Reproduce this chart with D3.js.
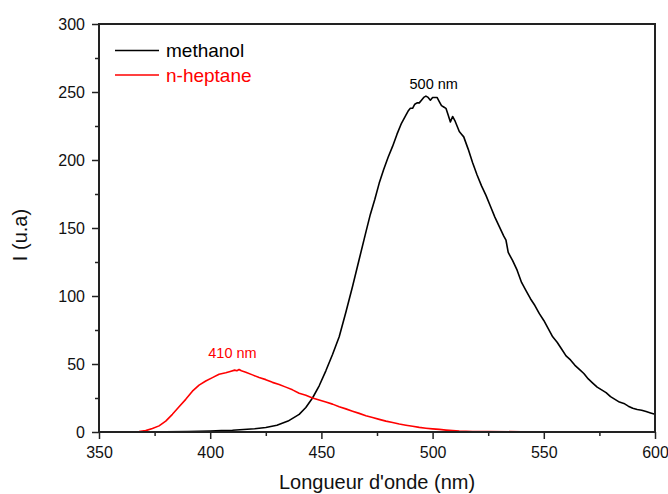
<!DOCTYPE html>
<html>
<head>
<meta charset="utf-8">
<script src="https://cdn.jsdelivr.net/npm/d3@7"></script>
<style>
  html, body { margin: 0; padding: 0; background: #fff; }
  svg { display: block; font-family: Arial, "Liberation Sans", sans-serif; }
</style>
</head>
<body>
<svg id="chart" width="668" height="494"></svg>
<script>
// ---- data ----
const methanolWavelength = [350,360,370,380,390,400,405,410,415,420,425,430,435,440,443,446,449,452,455,458,461,464,467,470,472,474,476,478,480,482,484,486,488,489,490,491,492,493,494,495,496,497,498,499,500,501,502,503,504,505,506,507,508,509,510,511,512,513,514,516,518,520,522,524,526,528,530,532,533,534,536,538,540,542,544,546,548,550,552,554,556,558,560,562,564,566,568,570,572,574,576,578,580,582,584,586,588,590,592,594,596,598,600];
const methanolIntensity = [0,0,0,0.2,0.4,0.7,1.0,1.3,1.8,2.4,3.3,5,8,13,18,25,34,45,57,70,88,107,127,147,160,171,183,193,202,210,219,227,233,236,238,238,241,242,242,244,246,247,246,244,246,246,246,243,240,239,238,233,228,232,229,225,221,219,217,208,198,189,181,174,166,158,151,144,141,132,126,119,110,104,98,93,87,82,76,70,66,61,56,53,49,46,43,39,36,33,31,29,26,24,22,21,19,17.5,16.5,16,15,14,13];

const heptaneWavelength = [350,360,365,368,371,374,377,380,383,386,389,392,395,398,401,404,407,409,411,412,413,414,416,419,422,425,428,431,434,437,440,443,446,449,452,455,458,461,464,467,470,473,476,479,482,485,488,491,494,497,500,503,506,509,512,518,525,540,560,580,600];
const heptaneIntensity = [0,0,0.1,0.3,1,2.5,4.5,8,13,18.5,24,30,34.5,37.5,40,42.5,43.5,44.5,45.5,45,46,45,44,42,40,38.5,36.5,35,33,31,28.5,27,25,23.5,22,20.5,18.5,17,15.3,13.7,12,10.6,9.3,8,7,5.9,5,4.2,3.4,2.8,2.3,1.9,1.4,1,0.7,0.4,0.3,0.2,0.1,0.05,0];

const seriesNames = ["methanol", "n-heptane"];
const seriesColors = ["#000000", "#ff0000"];
const xTicks = [350,400,450,500,550,600];
const yTicks = [0,50,100,150,200,250,300];
const annotations = [
  {text: "500 nm", x: 500.5, y: 252, color: "#000000"},
  {text: "410 nm", x: 410, y: 54.5, color: "#ff0000"}
];
const xTitle = "Longueur d'onde (nm)";
const yTitle = "I (u.a)";

// ---- layout ----
const svg = d3.select("#chart");
const mLeft = 99, mRight = 655, mTop = 24, mBottom = 432;

const x = d3.scaleLinear().domain([350, 600]).range([mLeft, mRight]);
const y = d3.scaleLinear().domain([0, 300]).range([mBottom, mTop]);

// curves
const line = d3.line().x(d => x(d[0])).y(d => y(d[1]));
const methanol = methanolWavelength.map((w, i) => [w, methanolIntensity[i]]);
const heptane = heptaneWavelength.map((w, i) => [w, heptaneIntensity[i]]);

svg.append("path").datum(methanol).attr("d", line)
  .attr("fill", "none").attr("stroke", seriesColors[0]).attr("stroke-width", 1.6)
  .attr("stroke-linejoin", "round");
svg.append("path").datum(heptane).attr("d", line)
  .attr("fill", "none").attr("stroke", seriesColors[1]).attr("stroke-width", 1.6)
  .attr("stroke-linejoin", "round");

// axes
const xMinor = d3.range(375, 600, 50);
const yMinor = d3.range(25, 300, 50);

const xAxis = svg.append("g").attr("transform", `translate(0,${mBottom})`)
  .call(d3.axisBottom(x).tickValues(xTicks).tickSize(7).tickPadding(8).tickFormat(d3.format("d")));
const xAxisMinor = svg.append("g").attr("transform", `translate(0,${mBottom})`)
  .call(d3.axisBottom(x).tickValues(xMinor).tickSize(4).tickFormat(""));
const yAxis = svg.append("g").attr("transform", `translate(${mLeft},0)`)
  .call(d3.axisLeft(y).tickValues(yTicks).tickSize(7).tickPadding(7).tickFormat(d3.format("d")));
const yAxisMinor = svg.append("g").attr("transform", `translate(${mLeft},0)`)
  .call(d3.axisLeft(y).tickValues(yMinor).tickSize(4).tickFormat(""));

[xAxis, xAxisMinor, yAxis, yAxisMinor].forEach(g => {
  g.select(".domain").remove();
  g.selectAll(".tick line").attr("stroke", "#222").attr("stroke-width", 1.5);
  g.selectAll(".tick text").attr("font-size", 16).attr("fill", "#111")
    .attr("font-family", "Arial, 'Liberation Sans', sans-serif");
});

// frame
svg.append("rect").attr("x", mLeft).attr("y", mTop)
  .attr("width", mRight - mLeft).attr("height", mBottom - mTop)
  .attr("fill", "none").attr("stroke", "#222").attr("stroke-width", 2);

// titles
svg.append("text").attr("x", (mLeft + mRight) / 2).attr("y", 489)
  .attr("text-anchor", "middle").attr("font-size", 20).attr("fill", "#111")
  .text(xTitle);
svg.append("text").attr("transform", "translate(27,235) rotate(-90)")
  .attr("text-anchor", "middle").attr("font-size", 20).attr("fill", "#111")
  .text(yTitle);

// legend
seriesNames.forEach((name, i) => {
  const ly = 50.5 + i * 24.5;
  svg.append("line").attr("x1", 115).attr("x2", 159).attr("y1", ly).attr("y2", ly)
    .attr("stroke", seriesColors[i]).attr("stroke-width", 1.6);
  svg.append("text").attr("x", 166).attr("y", ly + 6.5)
    .attr("font-size", 19).attr("fill", seriesColors[i]).text(name);
});

// annotations
annotations.forEach(a => {
  svg.append("text").attr("x", x(a.x)).attr("y", y(a.y))
    .attr("text-anchor", "middle").attr("font-size", 14.5).attr("fill", a.color)
    .text(a.text);
});
</script>
</body>
</html>
